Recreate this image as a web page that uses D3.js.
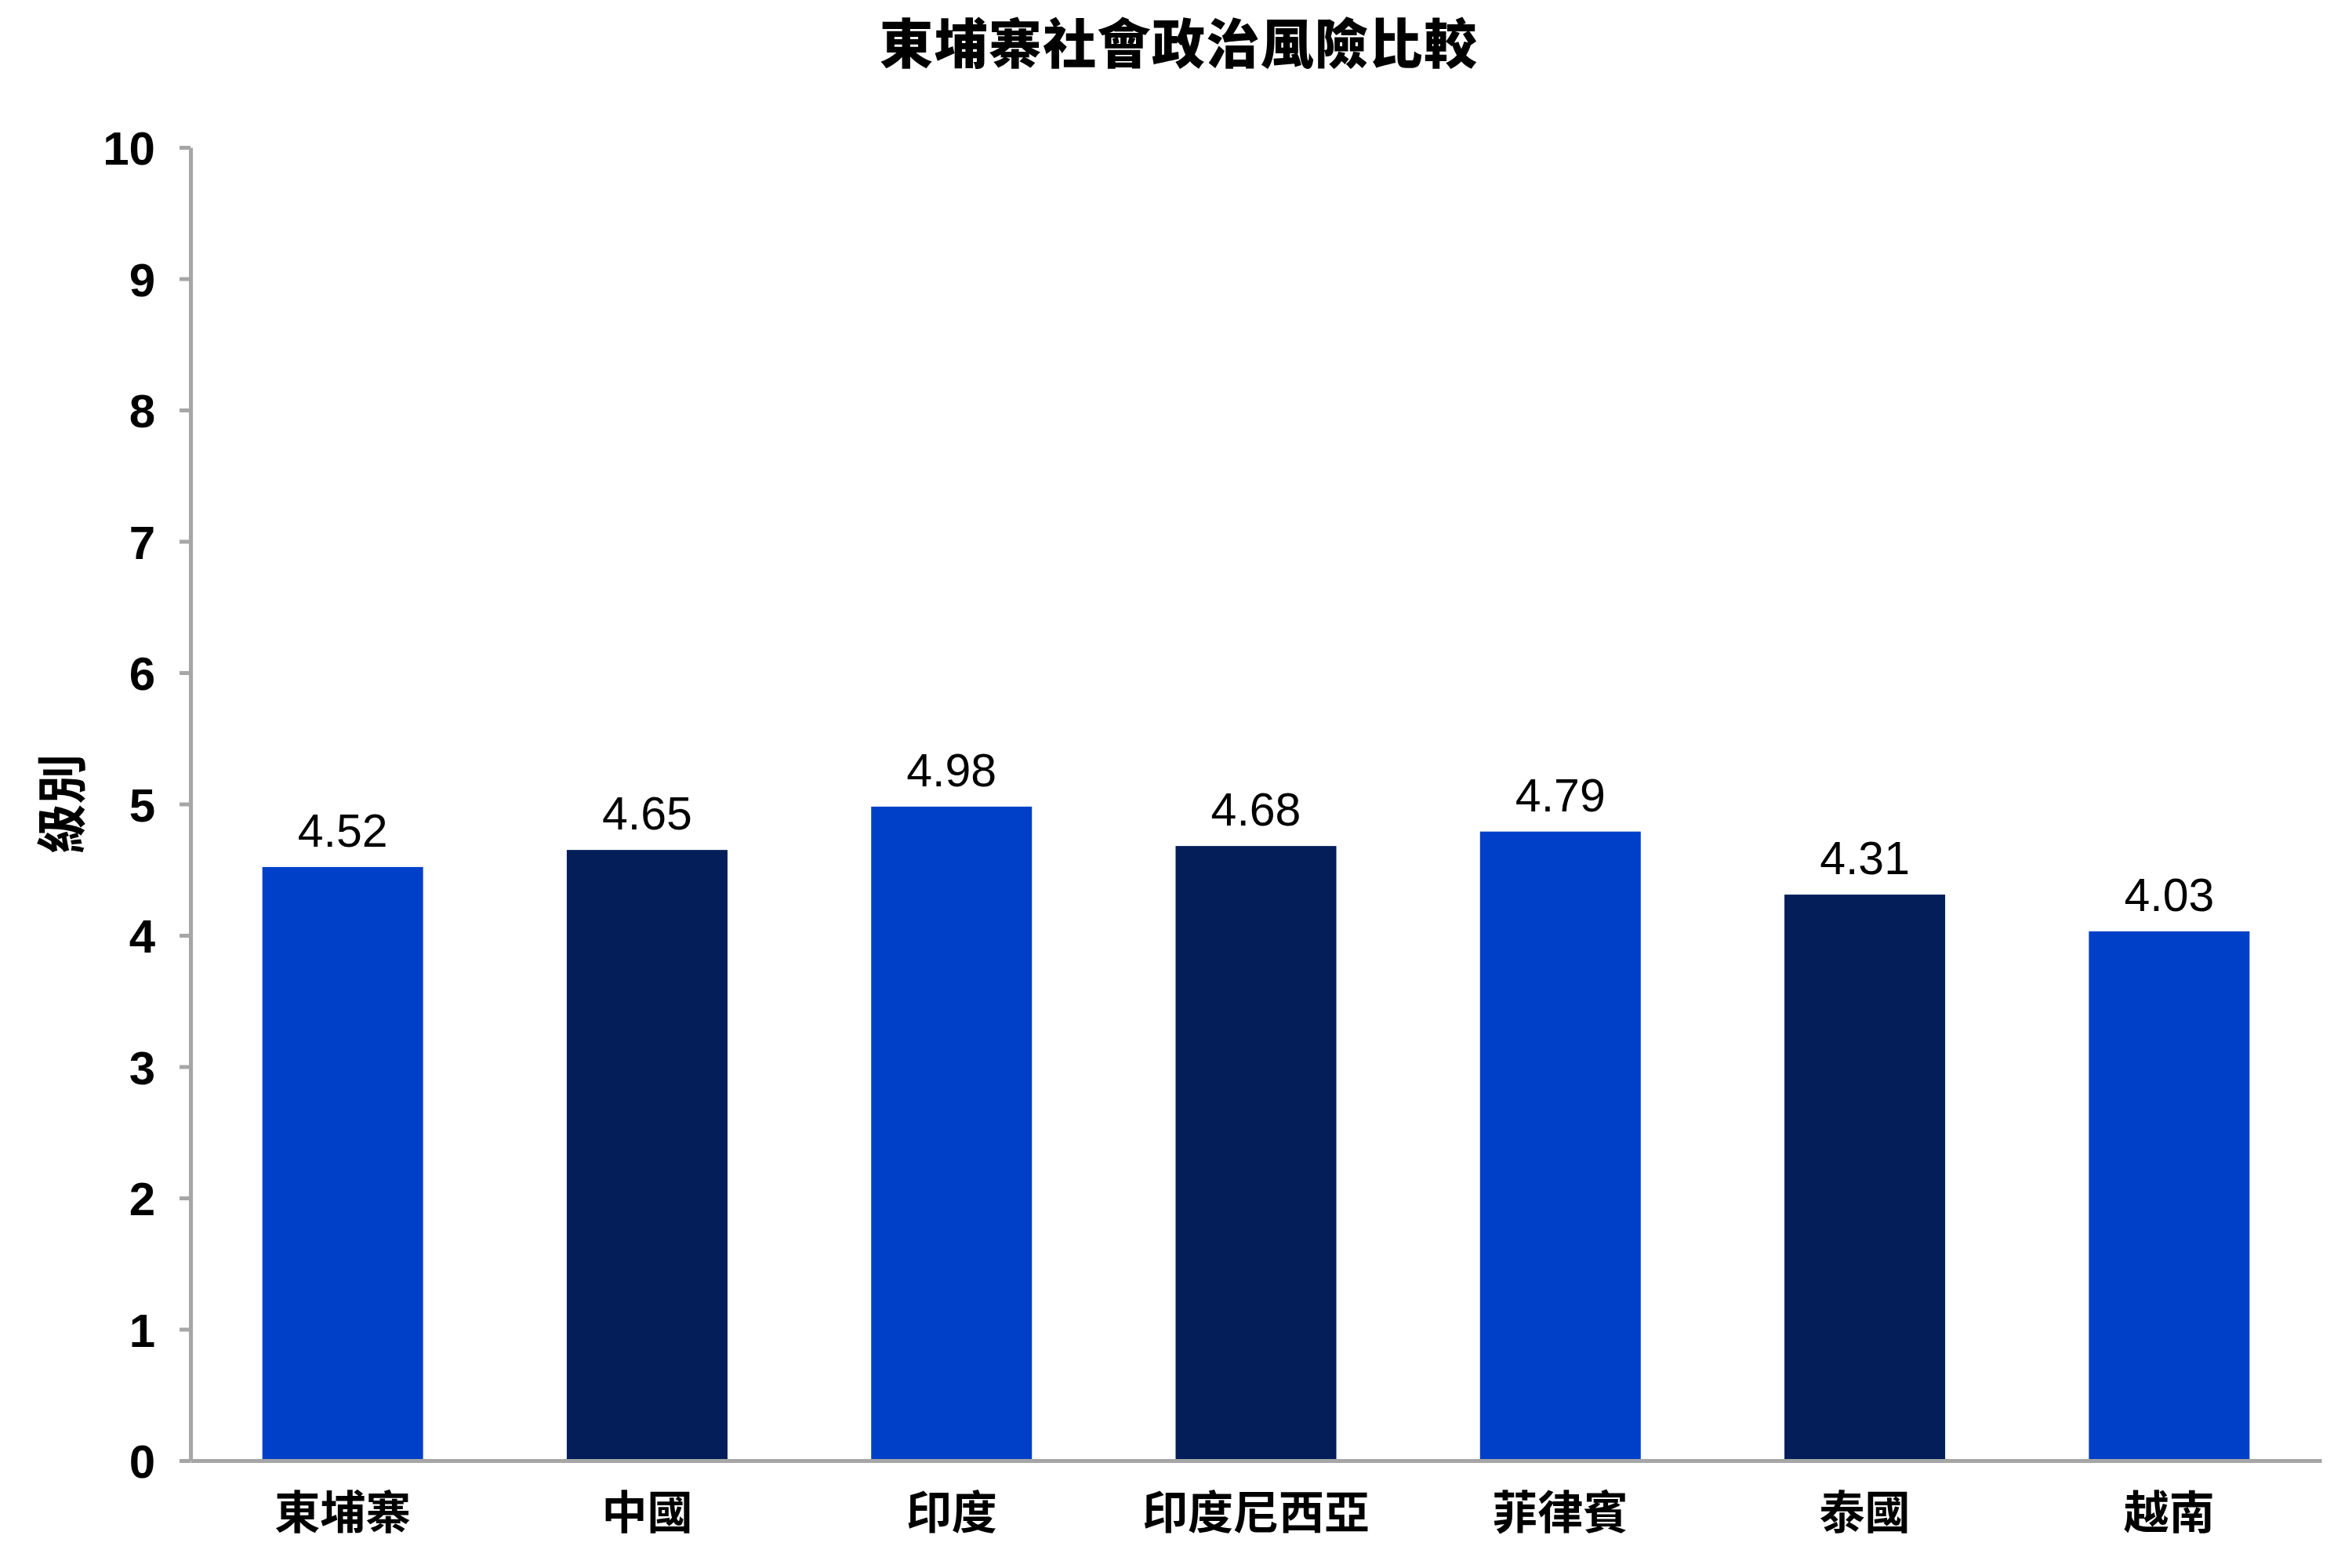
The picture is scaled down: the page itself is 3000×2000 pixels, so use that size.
<!DOCTYPE html>
<html>
<head>
<meta charset="utf-8">
<script src="https://cdn.jsdelivr.net/npm/d3@7"></script>
<style>
  html, body { margin: 0; padding: 0; background: #fff; }
  svg { display: block; }
</style>
</head>
<body>
<svg id="chart" width="3000" height="2000"></svg>
<script>
const categories = ["東埔寨", "中國", "印度", "印度尼西亞", "菲律賓", "泰國", "越南"];
const values = [4.52, 4.65, 4.98, 4.68, 4.79, 4.31, 4.03];
const valueLabels = ["4.52", "4.65", "4.98", "4.68", "4.79", "4.31", "4.03"];
const yTicks = [0, 1, 2, 3, 4, 5, 6, 7, 8, 9, 10];
const barColors = ["#0040C8", "#041E59", "#0040C8", "#041E59", "#0040C8", "#041E59", "#0040C8"];
const chartTitle = "東埔寨社會政治風險比較";
const yTitle = "級別";

(function () {
const svg = d3.select("#chart");
const pLeft = 243, pRight = 2961, pTop = 188, pBottom = 1863;
const latin = "'Liberation Sans', Arial, Helvetica, sans-serif";
const cjk = "'Noto Sans CJK TC', 'Noto Sans CJK SC', sans-serif";
const axisColor = "#A6A6A6";

const x = d3.scaleBand().domain(categories).range([pLeft, pRight]).paddingInner(0.472).paddingOuter(0.236);
const y = d3.scaleLinear().domain([0, 10]).range([pBottom, pTop]);

// Title
svg.append("text")
  .attr("x", 1503).attr("y", 81)
  .attr("text-anchor", "middle")
  .style("font-family", cjk).style("font-weight", "900")
  .style("font-size", "68px")
  .attr("textLength", 762).attr("lengthAdjust", "spacing")
  .text(chartTitle);

// Bars
svg.append("g").selectAll("rect").data(values).join("rect")
  .attr("x", (d, i) => x(categories[i]))
  .attr("width", x.bandwidth())
  .attr("y", d => y(d))
  .attr("height", d => y(0) - y(d))
  .attr("fill", (d, i) => barColors[i]);

// Value labels
svg.append("g").selectAll("text").data(values).join("text")
  .attr("x", (d, i) => x(categories[i]) + x.bandwidth() / 2)
  .attr("y", d => y(d) - 26)
  .attr("text-anchor", "middle")
  .style("font-family", latin).style("font-size", "59px").style("fill", "#000")
  .text((d, i) => valueLabels[i]);

// X axis
const gx = svg.append("g").attr("transform", `translate(0,${pBottom})`)
  .call(d3.axisBottom(x).tickSize(0).tickSizeOuter(0));
gx.select(".domain").attr("stroke", axisColor).attr("stroke-width", 5);
gx.selectAll("text")
  .attr("y", 87).attr("dy", 0)
  .style("font-family", cjk).style("font-weight", "bold")
  .style("font-size", "58px").style("fill", "#000");

// Y axis
const gy = svg.append("g").attr("transform", `translate(${pLeft},0)`)
  .call(d3.axisLeft(y).tickValues(yTicks).tickFormat(d3.format("d")).tickSize(14).tickPadding(31).tickSizeOuter(0));
gy.select(".domain").attr("stroke", axisColor).attr("stroke-width", 5);
gy.selectAll(".tick line").attr("stroke", axisColor).attr("stroke-width", 5);
gy.selectAll("text")
  .attr("dy", "0.36em")
  .style("font-family", latin).style("font-weight", "bold")
  .style("font-size", "60px").style("fill", "#000");

// Y axis title
svg.append("text")
  .attr("transform", `translate(79,${(pTop + pBottom) / 2}) rotate(-90)`)
  .attr("text-anchor", "middle").attr("dy", "0.36em")
  .style("font-family", cjk).style("font-weight", "bold")
  .style("font-size", "64px")
  .text(yTitle);
})();
</script>
</body>
</html>
